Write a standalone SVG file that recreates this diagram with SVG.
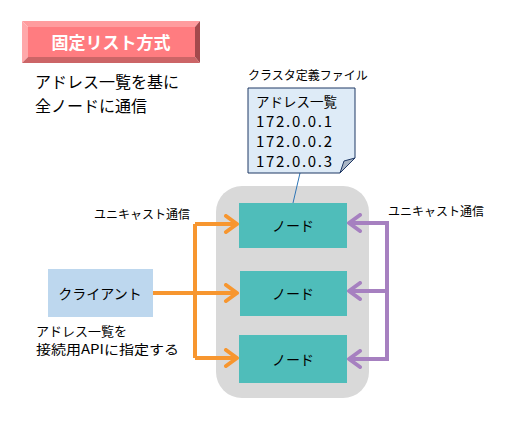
<svg xmlns="http://www.w3.org/2000/svg" width="523" height="422" viewBox="0 0 523 422">
<defs>
<style>
text{font-family:"Noto Sans CJK JP","Noto Sans",sans-serif;fill:#000}
.lbl{font-size:12px}
.big{font-size:16px}
.nd{fill:#4FBDBA}
.ndt{font-size:14px;text-anchor:middle}
.or{stroke:#F7962F;stroke-width:4;fill:none}
.pu{stroke:#A680C0;stroke-width:4;fill:none}
</style>
<marker id="ao" markerUnits="userSpaceOnUse" markerWidth="20" markerHeight="20" viewBox="-14 -10 16 20" refX="0" refY="0" orient="auto">
<polyline points="-11,-8 0,0 -11,8" fill="none" stroke="#F7962F" stroke-width="4" stroke-linecap="round" stroke-linejoin="round"/>
</marker>
<marker id="ap" markerUnits="userSpaceOnUse" markerWidth="20" markerHeight="20" viewBox="-14 -10 16 20" refX="0" refY="0" orient="auto">
<polyline points="-11,-8 0,0 -11,8" fill="none" stroke="#A680C0" stroke-width="4" stroke-linecap="round" stroke-linejoin="round"/>
</marker>
</defs>
<rect width="523" height="422" fill="#fff"/>

<g id="title">
<polygon points="22,21 200,21 195,27 28,27" fill="#FF9C9E"/>
<polygon points="22,21 28,27 28,57 22,63" fill="#FFA8AA"/>
<polygon points="200,21 200,63 195,57 195,27" fill="#A3494C"/>
<polygon points="22,63 28,57 195,57 200,63" fill="#CC6567"/>
<rect x="28" y="27" width="167" height="30" fill="#FF7C80"/>
<text x="111" y="49" text-anchor="middle" style="font-size:17px;font-weight:bold;fill:#fff">固定リスト方式</text>
</g>

<g id="desc">
<text class="big" x="35" y="88">アドレス一覧を基に</text>
<text class="big" x="35" y="111.5">全ノードに通信</text>
</g>

<g id="cluster">
<rect x="216" y="186" width="153" height="212" rx="26" ry="26" fill="#D9D9D9"/>
</g>

<g id="connectors">
<line x1="300" y1="173" x2="293" y2="203" stroke="#2E75B6" stroke-width="1"/>
<polyline class="or" points="153,293 237,293" marker-end="url(#ao)"/>
<polyline class="or" points="195,224 195,358"/>
<polyline class="or" points="195,224 237,224" marker-end="url(#ao)"/>
<polyline class="or" points="195,358 237,358" marker-end="url(#ao)"/>
<polyline class="pu" points="387,223 387,359"/>
<polyline class="pu" points="389,223 349,223" marker-end="url(#ap)"/>
<polyline class="pu" points="387,291 349,291" marker-end="url(#ap)"/>
<polyline class="pu" points="389,359 349,359" marker-end="url(#ap)"/>
</g>

<g id="note">
<text class="lbl" x="248" y="80">クラスタ定義ファイル</text>
<path d="M248,88 H355 V158 L340,173 H248 Z" fill="#DEEBF7" stroke="#1F3864" stroke-width="1"/>
<path d="M340,173 L344,161 L355,158 Z" fill="#A9B5C4" stroke="#1F3864" stroke-width="1" stroke-linejoin="round"/>
<text x="256" y="107" style="font-size:13.5px">アドレス一覧</text>
<text x="256" y="127" style="font-size:15px" textLength="76" lengthAdjust="spacing">172.0.0.1</text>
<text x="256" y="147" style="font-size:15px" textLength="76" lengthAdjust="spacing">172.0.0.2</text>
<text x="256" y="167" style="font-size:15px" textLength="76" lengthAdjust="spacing">172.0.0.3</text>
</g>

<g id="node1">
<rect class="nd" x="239" y="203" width="108" height="45"/>
<text class="ndt" x="293" y="231">ノード</text>
</g>
<g id="node2">
<rect class="nd" x="240" y="271" width="107" height="45"/>
<text class="ndt" x="293" y="299">ノード</text>
</g>
<g id="node3">
<rect class="nd" x="239" y="335" width="108" height="48"/>
<text class="ndt" x="293" y="365">ノード</text>
</g>

<g id="client">
<rect x="48" y="269" width="105" height="48" fill="#BDD7EE"/>
<text x="100" y="299" text-anchor="middle" style="font-size:14px">クライアント</text>
</g>

<g id="labels">
<text class="lbl" x="190" y="219" text-anchor="end">ユニキャスト通信</text>
<text class="lbl" x="388" y="216">ユニキャスト通信</text>
<text x="36" y="336" style="font-size:13px">アドレス一覧を</text>
<text x="36" y="354" style="font-size:13px" textLength="143" lengthAdjust="spacingAndGlyphs">接続用APIに指定する</text>
</g>
</svg>
